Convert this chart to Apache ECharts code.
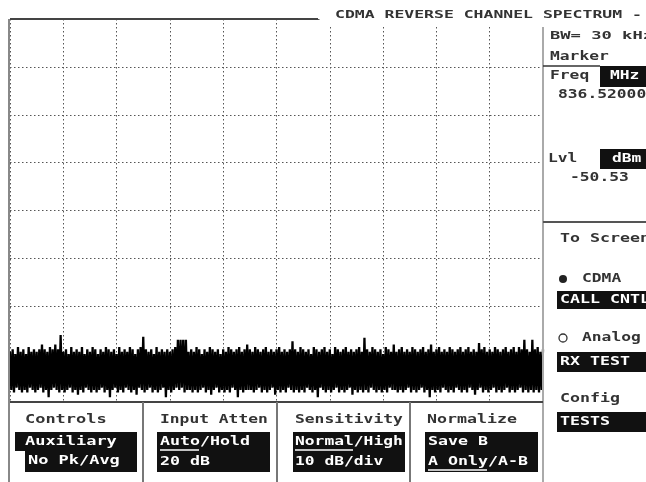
<!DOCTYPE html>
<html><head><meta charset="utf-8">
<script src="https://cdn.jsdelivr.net/npm/echarts@6/dist/echarts.min.js"></script>
<style>html,body{margin:0;padding:0;background:#fff}#c{width:646px;height:482px}</style>
</head><body><div id="c"></div>
<script>
const chartTitle = 'CDMA REVERSE CHANNEL SPECTRUM -';
const centerFreqMHz = 836.52;
const offsetStartKHz = -1000;
const offsetStepKHz = 5;
const yTop = 0, yBottom = -80, dbPerDiv = 10;
const traceDbm = [
-69.5,-77.5,-69,-78,-70,-77,-68.5,-77.5,-69.5,-78,-69,-77.5,-70,-78,-68.5,-77,-69.5,-77.5,-69,-78,
-69.5,-77.5,-69,-77,-68,-78,-69,-77.5,-69.5,-79,-68.5,-77.5,-69,-77,-68,-77.5,-69,-78,-66,-77.5,
-69.5,-78,-69,-77.5,-70,-77,-68.5,-78,-69.5,-77.5,-69,-78.5,-69.5,-77.5,-68.5,-78,-70,-77,-69,-77.5,
-69.5,-78,-68.5,-77.5,-69,-78,-70,-77.5,-69,-77,-69.5,-78,-68.5,-77.5,-69,-79,-69.5,-77.5,-69,-77,
-70,-78,-68.5,-77.5,-69.5,-78,-69,-77,-69.5,-77.5,-68.5,-78,-69,-77.5,-70,-78.5,-69,-77,-68.5,-77.5,
-66.4,-78,-69,-77.5,-69.5,-77,-69,-78,-70,-77.5,-68.5,-78,-69.5,-77.5,-69,-77,-69.5,-79,-69,-77.5,
-69.5,-78,-69,-77.5,-68.5,-77,-67,-77.5,-67,-77,-67,-78,-67,-77.5,-69.5,-77.5,-69,-78,-69.5,-77.5,
-68.5,-78,-69,-77.5,-70,-77,-69,-78,-69.5,-77.5,-68.5,-78.5,-69,-77.5,-69.5,-77,-69,-78,-70,-77.5,
-69,-78,-69.5,-77.5,-68.5,-78,-69,-77,-69.5,-77.5,-69,-79,-68.5,-77.5,-69.5,-78,-69,-77.5,-68,-77.5,
-69,-77.5,-69.5,-78,-68.5,-77.5,-69,-77,-69.5,-78,-69,-77.5,-68.5,-78,-69.5,-77.5,-69,-77,-69.5,-78.5,
-69,-77.5,-68.5,-78,-69.5,-77.5,-69,-78,-69.5,-77,-69,-77.5,-67.3,-78,-69,-77.5,-69.5,-78,-68.5,-77.5,
-69,-78,-69.5,-77,-69,-77.5,-70,-78,-68.5,-77.5,-69,-79,-69.5,-77,-69,-77.5,-68.5,-78,-69.5,-77.5,
-69,-78,-70,-77.5,-68.5,-77,-69,-78,-69.5,-77.5,-69,-78,-68.5,-77.5,-69.5,-77,-69,-78.5,-69.5,-77.5,
-69,-78,-68.5,-77.5,-69.5,-78,-66.6,-77.5,-69,-78,-69.5,-77,-68.5,-77.5,-69,-78,-69.5,-77.5,-69,-78,
-70,-77.5,-68.5,-78,-69,-77,-69.5,-77.5,-68,-77.5,-69.5,-78,-69,-77.5,-68.5,-78,-69.5,-77.5,-69,-77,
-69.5,-78,-68.5,-77.5,-69,-78,-69.5,-77.5,-69,-77,-68.5,-78,-69.5,-77.5,-69,-79,-68,-77.5,-69.5,-78,
-69,-77.5,-68.5,-78,-69.5,-77,-69,-77.5,-69.5,-78,-68.5,-77.5,-69,-78,-69.5,-77,-69,-77.5,-68.5,-78,
-69.5,-77.5,-69,-78,-68.5,-77,-69.5,-77.5,-69,-78.5,-69.5,-77.5,-67.7,-77,-69,-78,-68.5,-77.5,-69.5,-78,
-69,-77.5,-69.5,-77,-68.5,-78,-69,-77.5,-69.5,-78,-69,-77.5,-68.5,-77,-69.5,-78,-69,-77.5,-68.5,-78,
-69.5,-77.5,-68.5,-77,-69,-78,-67,-77.5,-69,-78,-69.5,-77.5,-67,-78,-69,-77.5,-68.5,-78,-69.5,-77.5,
-69
];
const offsetEndKHz = offsetStartKHz + offsetStepKHz * (traceDbm.length - 1);
const traceData = traceDbm.map((v, i) => [offsetStartKHz + i * offsetStepKHz, v]);

const FONT = '"DejaVu Sans Mono", "Liberation Mono", monospace';
function T(x, y, s, o) {
  o = o || {};
  const fs = o.fs || 13;
  const sx = (o.pitch || 10) / (0.602 * fs);
  return { type: 'text', x: x, y: y, scaleX: sx, scaleY: o.sy || 1, z: 20, silent: true,
    style: { text: s, fill: o.fill || '#333', font: 'bold ' + fs + 'px ' + FONT,
      textAlign: 'left', align: 'left', textVerticalAlign: 'middle', verticalAlign: 'middle' } };
}
function R(x, y, w, h, fill) {
  return { type: 'rect', z: 15, silent: true, shape: { x: x, y: y, width: w, height: h }, style: { fill: fill || '#111' } };
}
function L(x1, y1, x2, y2, stroke, lw) {
  return { type: 'line', z: 16, silent: true, shape: { x1: x1, y1: y1, x2: x2, y2: y2 }, style: { stroke: stroke || '#333', lineWidth: lw || 1 } };
}
const W = '#fff';
const graphics = [
  R(320, 0, 326, 27, '#fff'),
  L(10, 19, 318, 19, '#444', 2),
  L(9, 19, 9, 482, '#888', 2),
  L(543, 27, 543, 482, '#aaa', 2),
  L(10, 402, 543, 402, '#444', 2),
  T(335, 15, chartTitle, { fs: 11, pitch: 9.9 }),
  T(550, 36, 'BW= 30 kHz', { fs: 11, pitch: 10.3 }),
  T(550, 57, 'Marker', { fs: 12, pitch: 9.8 }),
  L(543, 66, 600, 66, '#333', 1.5),
  T(550, 76, 'Freq', { fs: 12, pitch: 9.8 }),
  R(600, 66, 46, 21), T(610, 76, 'MHz', { fs: 12, pitch: 9.8, fill: W }),
  T(558, 95, '836.52000', { fs: 12, pitch: 9.8 }),
  T(548, 159, 'Lvl', { fs: 12, pitch: 9.8 }),
  R(600, 149, 46, 20), T(612, 159, 'dBm', { fs: 12, pitch: 9.8, fill: W }),
  T(570, 178, '-50.53', { fs: 12, pitch: 9.8 }),
  L(543, 222, 646, 222, '#555', 2),
  T(560, 239, 'To Screen', { fs: 13, pitch: 10 }),
  { type: 'circle', z: 20, silent: true, shape: { cx: 563, cy: 279, r: 4 }, style: { fill: '#222' } },
  T(582, 279, 'CDMA', { fs: 12, pitch: 9.8 }),
  R(557, 291, 89, 18), T(560, 300, 'CALL CNTL', { fs: 13, pitch: 10, fill: W }),
  { type: 'circle', z: 20, silent: true, shape: { cx: 563, cy: 338, r: 4 }, style: { fill: '#fff', stroke: '#333', lineWidth: 1.3 } },
  T(582, 338, 'Analog', { fs: 12, pitch: 9.8 }),
  R(557, 352, 89, 20), T(560, 362, 'RX TEST', { fs: 13, pitch: 10, fill: W }),
  T(560, 399, 'Config', { fs: 13, pitch: 10 }),
  R(557, 412, 89, 20), T(560, 422, 'TESTS', { fs: 13, pitch: 10, fill: W }),
  L(143, 402, 143, 482, '#777', 2),
  L(277, 402, 277, 482, '#777', 2),
  L(410, 402, 410, 482, '#777', 2),
  T(25, 420, 'Controls', { fs: 13, pitch: 10.2 }),
  T(160, 420, 'Input Atten', { fs: 13, pitch: 9.8 }),
  T(295, 420, 'Sensitivity', { fs: 13, pitch: 9.8 }),
  T(427, 420, 'Normalize', { fs: 13, pitch: 10 }),
  R(15, 432, 122, 19), R(25, 450, 112, 22),
  T(25, 442, 'Auxiliary', { fs: 13, pitch: 10.2, fill: W }),
  T(28, 461, 'No Pk/Avg', { fs: 13, pitch: 10.2, fill: W }),
  R(157, 432, 113, 40),
  T(160, 442, 'Auto/Hold', { fs: 13, pitch: 10, fill: W }), L(160, 450, 199, 450, W, 1.3),
  T(160, 462, '20 dB', { fs: 13, pitch: 10, fill: W }),
  R(293, 432, 112, 40),
  T(295, 442, 'Normal/High', { fs: 13, pitch: 9.8, fill: W }), L(295, 450, 353, 450, W, 1.3),
  T(295, 462, '10 dB/div', { fs: 13, pitch: 9.8, fill: W }),
  R(425, 432, 113, 40),
  T(428, 442, 'Save B', { fs: 13, pitch: 10, fill: W }),
  T(428, 462, 'A Only/A-B', { fs: 13, pitch: 10, fill: W }), L(428, 470, 487, 470, W, 1.3)
];

const chart = echarts.init(document.getElementById('c'));
chart.setOption({
  animation: false,
  backgroundColor: '#fff',
  grid: { left: 10, top: 19, right: 103, bottom: 80, containLabel: false, outerBoundsMode: 'none' },
  xAxis: {
    type: 'value',
    min: offsetStartKHz, max: offsetEndKHz, interval: 200,
    axisLine: { show: false }, axisTick: { show: false }, axisLabel: { show: false },
    splitLine: { show: true, lineStyle: { color: '#555', width: 1, type: [1.5, 2.5] } }
  },
  yAxis: {
    type: 'value', min: yBottom, max: yTop, interval: dbPerDiv,
    axisLine: { show: false }, axisTick: { show: false }, axisLabel: { show: false },
    splitLine: { show: true, lineStyle: { color: '#555', width: 1, type: [1.5, 2.5] } }
  },
  series: [{
    type: 'line', name: 'Spectrum @ ' + centerFreqMHz + ' MHz', data: traceData, showSymbol: false, symbol: 'none', sampling: null,
    lineStyle: { color: '#000', width: 2.3 }, z: 5, silent: true
  }],
  graphic: graphics
});
</script></body></html>
